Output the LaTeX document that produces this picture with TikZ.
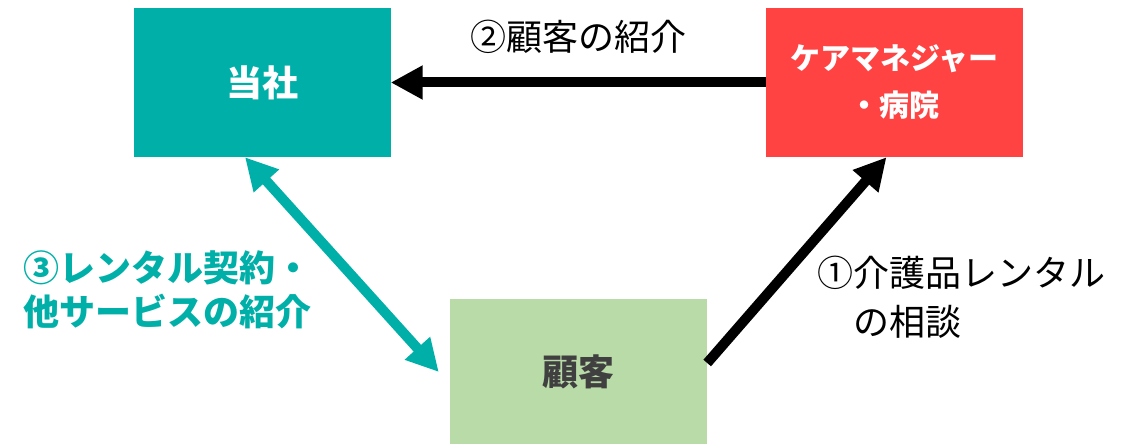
\documentclass[tikz,border=0pt]{standalone}
\usepackage{fontspec}
\setmainfont{Noto Sans CJK JP}
\usetikzlibrary{arrows.meta,calc,positioning}
\definecolor{CompanyTeal}{RGB}{0,176,168}
\definecolor{CareRed}{RGB}{255,67,67}
\definecolor{ClientGreen}{RGB}{185,219,168}
\definecolor{ClientText}{RGB}{64,64,64}
\tikzset{
  box/.style={minimum width=257pt,minimum height=149pt,inner sep=0pt,align=center,font=\fontsize{36}{44}\selectfont\bfseries},
  flow/.style={line width=10pt,-{Triangle[length=32pt,width=32pt]}},
  lbl/.style={align=left,inner sep=0pt,font=\fontsize{36}{49}\selectfont}
}

\begin{document}
\begin{tikzpicture}[x=1pt,y=-1pt]
\useasboundingbox (0,0) rectangle (1130,444);
\node [box,fill=CompanyTeal,text=white] (Company) at (262,82.5) {当社};
\node [box,fill=CareRed,text=white,font=\fontsize{30}{47}\selectfont\bfseries] (CareManager) at (894.5,82.5) {ケアマネジャー\\・病院};
\node [box,fill=ClientGreen,text=ClientText,minimum height=146pt] (Client) at (578.5,372) {顧客};
\draw [flow] (CareManager.west) -- node [lbl,above=24pt] (ReferLabel) {②顧客の紹介} (Company.east);
\draw [flow] ([yshift=9pt]Client.east) -- ([xshift=-8pt]CareManager.south);
\node [lbl,anchor=west] (ConsultLabel) at (817,297.5) {①介護品レンタル\\　の相談};
\draw [flow,CompanyTeal,{Triangle[length=32pt,width=32pt]}-{Triangle[length=32pt,width=32pt]}] ([xshift=-17pt]Company.south) -- ([xshift=-11pt]Client.west);
\node [lbl,anchor=west,text=CompanyTeal,font=\fontsize{36}{44}\selectfont\bfseries] (ContractLabel) at (23,290) {③レンタル契約・\\他サービスの紹介};
\end{tikzpicture}
\end{document}
